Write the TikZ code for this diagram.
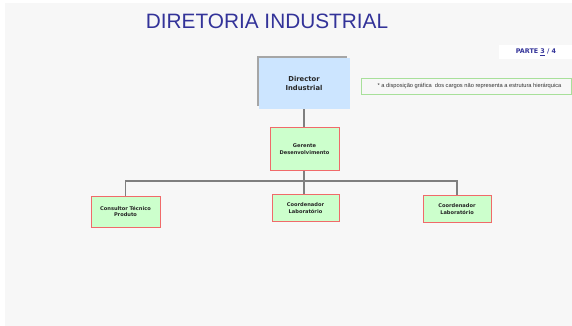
\documentclass[tikz,border=0pt]{standalone}
\usepackage{fontspec}
\setmainfont{Liberation Sans}
\newfontfamily\boxfont{DejaVu Sans}
\definecolor{bg}{HTML}{F7F7F7}
\definecolor{titleblue}{HTML}{333399}
\definecolor{boxgreen}{HTML}{CCFFCC}
\definecolor{boxred}{HTML}{F06A6A}
\definecolor{dirblue}{HTML}{CCE5FF}
\definecolor{shadowgray}{HTML}{A6A6A6}
\definecolor{linegray}{HTML}{7F7F7F}
\definecolor{notegreen}{HTML}{A8E09A}
\tikzset{
  greenbox/.style={draw=boxred, line width=0.9pt, fill=boxgreen, align=center, inner sep=0pt,
    font=\boxfont\bfseries\fontsize{5.1}{6.4}\selectfont, text=black!85},
  conn/.style={draw=linegray, line width=1.1pt}
}
\begin{document}
\begin{tikzpicture}[x=1pt,y=-1pt]
\useasboundingbox (0,0) rectangle (572,326);
\fill[white] (0,0) rectangle (572,326);
\fill[bg] (5,3) rectangle (572,326);
% title
\node[text=titleblue, font=\fontsize{20.8}{24}\selectfont, inner sep=0pt] (title) at (267,21) {DIRETORIA INDUSTRIAL};
% parte
\fill[white] (499,45) rectangle (572,59);
\node[text=titleblue, font=\boxfont\bfseries\fontsize{6.4}{7}\selectfont, inner sep=0pt] (parte) at (536,52) {PARTE \underline{3} / 4};
% director
\fill[shadowgray] (257,56.5) rectangle (347,106);
\node[fill=dirblue, minimum width=91pt, minimum height=51pt, inner sep=0pt, align=center,
  font=\boxfont\bfseries\fontsize{6.8}{8.2}\selectfont, text=black!85] (dir) at (304,83.5) {Director\\Industrial};
% note
\node[draw=notegreen, line width=0.6pt, fill=bg, minimum width=210pt, minimum height=16pt, inner sep=0pt,
  font=\fontsize{5.7}{6}\selectfont, text=black!80] (note) at (466.5,86) {\hspace{6pt}* a disposição gráfica~ dos cargos não representa a estrutura hierárquica};
% gerente
\node[greenbox, minimum width=69pt, minimum height=43pt] (ger) at (304.5,149) {Gerente\\Desenvolvimento};
% subordinates
\node[greenbox, minimum width=69pt, minimum height=31pt] (cons) at (125.5,211.5) {Consultor Técnico\\Produto};
\node[greenbox, minimum width=67pt, minimum height=27pt] (co1) at (305.5,208) {Coordenador\\Laboratório};
\node[greenbox, minimum width=68pt, minimum height=27pt] (co2) at (457,209) {Coordenador\\Laboratório};
% connectors
\coordinate (bus) at (304,181);
\draw[conn] (dir.south -| bus) -- (ger.north -| bus);
\draw[conn] (ger.south -| bus) -- (bus);
\draw[conn] (bus) -| (cons.north);
\draw[conn] (bus) -| (co2.north);
\draw[conn] (bus) -- (co1.north -| bus);
\end{tikzpicture}
\end{document}
